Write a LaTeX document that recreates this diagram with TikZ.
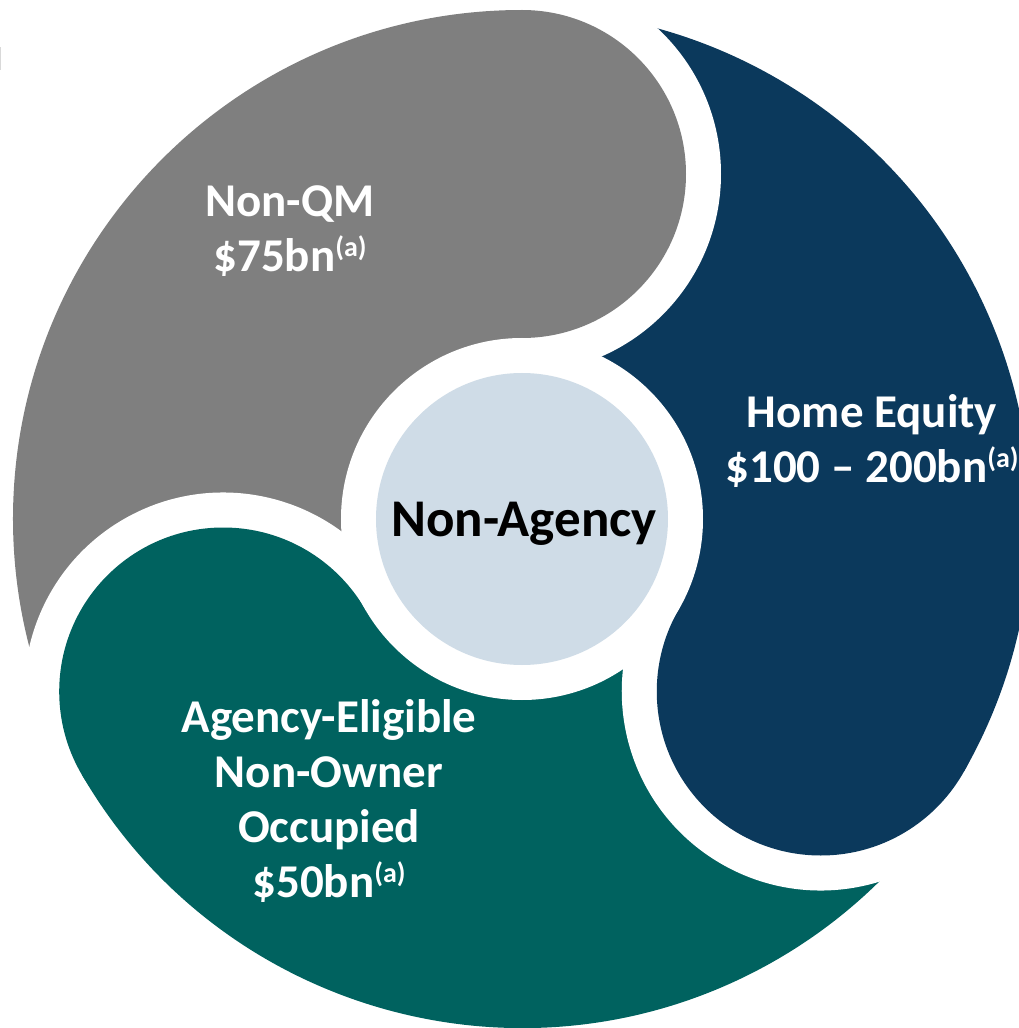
\documentclass[tikz,border=0pt]{standalone}
\usepackage{fontspec}
\setmainfont{Carlito}
\definecolor{nqgray}{RGB}{127,127,127}
\definecolor{henavy}{RGB}{11,57,92}
\definecolor{aeteal}{RGB}{0,98,95}
\definecolor{hubblue}{RGB}{207,220,231}
\newcommand{\foota}{\raisebox{15pt}{\fontsize{28}{28}\selectfont(a)}}
\begin{document}
\begin{tikzpicture}[x=1pt,y=1pt,
  seglabel/.style={text=white, font=\fontsize{47}{55}\selectfont\bfseries,
    align=center, inner sep=0pt, anchor=base}]
\useasboundingbox (-522,-509) rectangle (496,519);
% outer radius, bulb distance, bulb radius, white gap, hub radius
\def\R{509}\def\D{345}\def\Rb{164}\def\G{35}\def\Rc{146}
% three 120-degree sectors of the outer disc
\foreach \a/\c in {90/nqgray, -30/henavy, 210/aeteal}{
  \fill[\c, rotate=\a] (0,0) -- (0:\R) arc[start angle=0, end angle=120, radius=\R] -- cycle;
}
% white gap behind each bulb on its clockwise side, then the bulb itself
\foreach \a/\c in {90/nqgray, -30/henavy, 210/aeteal}{
  \begin{scope}[rotate=\a]
    \clip (-600,-600) rectangle (600,2);
    \fill[white] (\D,0) circle[radius=\Rb+\G];
  \end{scope}
  \fill[\c] (\a:\D) circle[radius=\Rb];
}
% hub
\fill[white] (0,0) circle[radius=\Rc+\G];
\node[circle, fill=hubblue, minimum size=2*\Rc, inner sep=0pt] (hub) at (0,0) {};
\node[anchor=base, inner sep=0pt, font=\fontsize{53}{60}\selectfont\bfseries] (hubtext) at (2,-17) {Non-Agency};
% segment labels (base anchor sits on the last line)
\node[seglabel] (nqm) at (-232,247) {Non-QM\\\$75bn\foota};
\node[seglabel] (heq) at (350,37) {Home Equity\\\$100 – 200bn\foota};
\node[seglabel] (aeo) at (-193,-378) {Agency-Eligible\\Non-Owner\\Occupied\\\$50bn\foota};
% faint edge mark
\fill[gray!30] (-522,449) rectangle (-520.8,472);
\end{tikzpicture}
\end{document}
